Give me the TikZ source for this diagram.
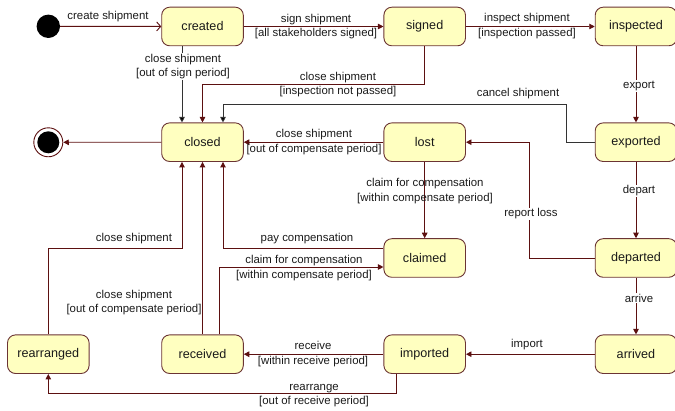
\documentclass[tikz,border=0pt]{standalone}
\usepackage{fontspec}
\setmainfont{Liberation Sans}
\usetikzlibrary{arrows.meta}
\definecolor{fillY}{HTML}{FFFFC0}
\definecolor{bord}{HTML}{6B3434}
\definecolor{edg}{HTML}{5C1010}
\definecolor{gry}{HTML}{333333}
\definecolor{txt}{HTML}{1A1A1A}
\begin{document}
\begin{tikzpicture}[x=1pt,y=-1pt,
 st/.style={draw=bord, fill=fillY, rounded corners=8pt, minimum width=81.6pt, minimum height=38.6pt, line width=0.9pt, font=\fontsize{12.6}{14}\selectfont, text=txt, inner sep=0pt},
 tr/.style={draw=edg, line width=0.9pt, -{Triangle[length=5.5pt,width=5.5pt]}},
 gtr/.style={draw=gry, line width=0.9pt, -{Triangle[length=5.5pt,width=5.5pt,fill=black]}},
 lbl/.style={font=\fontsize{11.4}{14.5}\selectfont, text=txt, align=center, inner sep=1pt},
 wlbl/.style={lbl, fill=white}]
\useasboundingbox (0,0) rectangle (675,411);

% states
\node[st] (created) at (202.5,26.5) {created};
\node[st] (signed) at (424.7,26.5) {signed};
\node[st] (inspected) at (636,26.5) {inspected};
\node[st] (closed) at (202.5,142.2) {closed};
\node[st] (lost) at (424.7,142.2) {lost};
\node[st] (exported) at (636,142.2) {exported};
\node[st] (claimed) at (424.7,258) {claimed};
\node[st] (departed) at (636,258) {departed};
\node[st] (rearranged) at (48.3,354.2) {rearranged};
\node[st] (received) at (202.5,354.2) {received};
\node[st] (imported) at (424.7,354.2) {imported};
\node[st] (arrived) at (636,354.2) {arrived};

% pseudo states
\node[circle, fill=black, minimum size=23.4pt, inner sep=0pt] (init) at (48.3,26.3) {};
\node[circle, draw=edg, line width=0.9pt, minimum size=29pt, inner sep=0pt] (fin) at (48.3,142.3) {};
\node[circle, fill=black, minimum size=22pt, inner sep=0pt] (finin) at (fin) {};

% transitions
\draw[draw=edg, line width=0.9pt, -{Straight Barb[length=4pt,width=9pt]}] (init) -- (created);
\draw[tr] (created) -- (signed);
\draw[tr] (signed) -- (inspected);
\draw[tr] (inspected) -- (exported);
\draw[tr] (exported) -- (departed);
\draw[tr] (departed) -- (arrived);
\draw[tr] (arrived) -- (imported);
\draw[tr] (imported) -- (received);
\draw[tr] ([xshift=-28.7pt]imported.south) -- ++(0,20) -| (rearranged.south);
\draw[tr] (rearranged.north) -- (rearranged.north |- 0,248) -| ([xshift=-20.5pt]closed.south);
\draw[tr] (received) -- (closed);
\draw[tr] ([xshift=16.5pt]received.north) |- ([yshift=-9pt]claimed.west);
\draw[tr] ([yshift=10pt]claimed.west) -| ([xshift=20.5pt]closed.south);
\draw[tr] (lost) -- (claimed);
\draw[tr] (lost) -- (closed);
\draw[tr] (departed.west) -- ++(-65,0) |- (lost.east);
\draw[gtr] (exported.west) -- ++(-28,0) -- ++(0,-38.2) -| ([xshift=20.5pt]closed.north);
\draw[tr] (signed.south) -- ++(0,38) -| (closed.north);
\draw[gtr] ([xshift=-20.5pt]created.south) -- ([xshift=-20.5pt]closed.north);
\draw[tr] (closed) -- (fin);

% labels
\node[lbl] (l1) at (108,17) {create shipment};
\node[lbl] (l2) at (316,26.5) {sign shipment\\{[all stakeholders signed]}};
\node[lbl] (l3) at (527,26) {inspect shipment\\{[inspection passed]}};
\node[wlbl] (l4) at (183,66.5) {close shipment\\{[out of sign period]}};
\node[lbl] (l5) at (338,84.5) {close shipment\\{[inspection not passed]}};
\node[lbl] (l6) at (518,94) {cancel shipment};
\node[wlbl] (l7) at (639,86) {export};
\node[lbl] (l8) at (314,142) {close shipment\\{[out of compensate period]}};
\node[lbl] (l9) at (425,191) {claim for compensation\\{[within compensate period]}};
\node[wlbl] (l10) at (639,191) {depart};
\node[wlbl] (l11) at (531,214) {report loss};
\node[lbl] (l12) at (307,239) {pay compensation};
\node[lbl] (l13) at (304,268) {claim for compensation\\{[within compensate period]}};
\node[lbl] (l14) at (134,238.5) {close shipment};
\node[lbl] (l15) at (134,302.5) {close shipment\\{[out of compensate period]}};
\node[wlbl] (l16) at (639,298) {arrive};
\node[lbl] (l17) at (527,345) {import};
\node[lbl] (l18) at (313,354) {receive\\{[within receive period]}};
\node[lbl] (l19) at (314,395.5) {rearrange\\{[out of receive period]}};
\end{tikzpicture}
\end{document}
